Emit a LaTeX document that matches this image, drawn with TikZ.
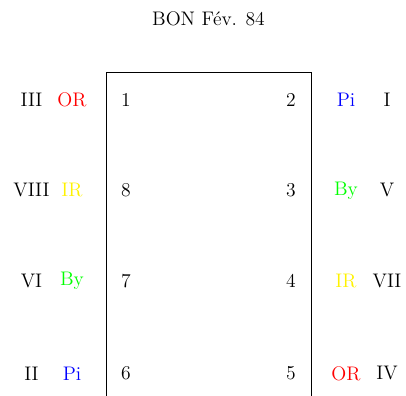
\documentclass[tikz,border=0pt]{standalone}
\begin{document}
\begin{tikzpicture}[x=0.019704cm,y=-0.019704cm,
  lbl/.style={inner sep=0pt,anchor=center,font=\fontsize{11}{13}\selectfont},
  num/.style={lbl,text=black},
  rom/.style={lbl,text=black}]
\useasboundingbox (0,0) rectangle (406,396);
% title
\node[lbl] (title) at (208.5,18.5) {BON F\'ev. 84};
% open frame (no bottom edge)
\coordinate (bl) at (106.5,396);
\coordinate (tl) at (106.5,72);
\coordinate (tr) at (311.5,72);
\coordinate (br) at (311.5,396);
\draw[line width=0.5pt] (bl) -- (tl) -- (tr) -- (br);
% left column
\node[rom] (l1r) at (31.5,100) {III};
\node[lbl,text=red] (l1c) at (72,100) {OR};
\node[num] (n1) at (126,100) {1};
\node[rom] (l2r) at (31.5,190.5) {VIII};
\node[lbl,text=yellow] (l2c) at (72,190.5) {IR};
\node[num] (n8) at (126,190.5) {8};
\node[rom] (l3r) at (31.5,281) {VI};
\node[lbl,text=green] (l3c) at (72,281) {By};
\node[num] (n7) at (126,281) {7};
\node[rom] (l4r) at (31.5,373.5) {II};
\node[lbl,text=blue] (l4c) at (72,373.5) {Pi};
\node[num] (n6) at (126,373.5) {6};
% right column
\node[num] (n2) at (291,100) {2};
\node[lbl,text=blue] (r1c) at (346,100) {Pi};
\node[rom] (r1r) at (387,100) {I};
\node[num] (n3) at (291,190.5) {3};
\node[lbl,text=green] (r2c) at (346,190.5) {By};
\node[rom] (r2r) at (387,190.5) {V};
\node[num] (n4) at (291,281) {4};
\node[lbl,text=yellow] (r3c) at (346,281) {IR};
\node[rom] (r3r) at (387,281) {VII};
\node[num] (n5) at (291,373.5) {5};
\node[lbl,text=red] (r4c) at (346,373.5) {OR};
\node[rom] (r4r) at (387,373.5) {IV};
\end{tikzpicture}
\end{document}
